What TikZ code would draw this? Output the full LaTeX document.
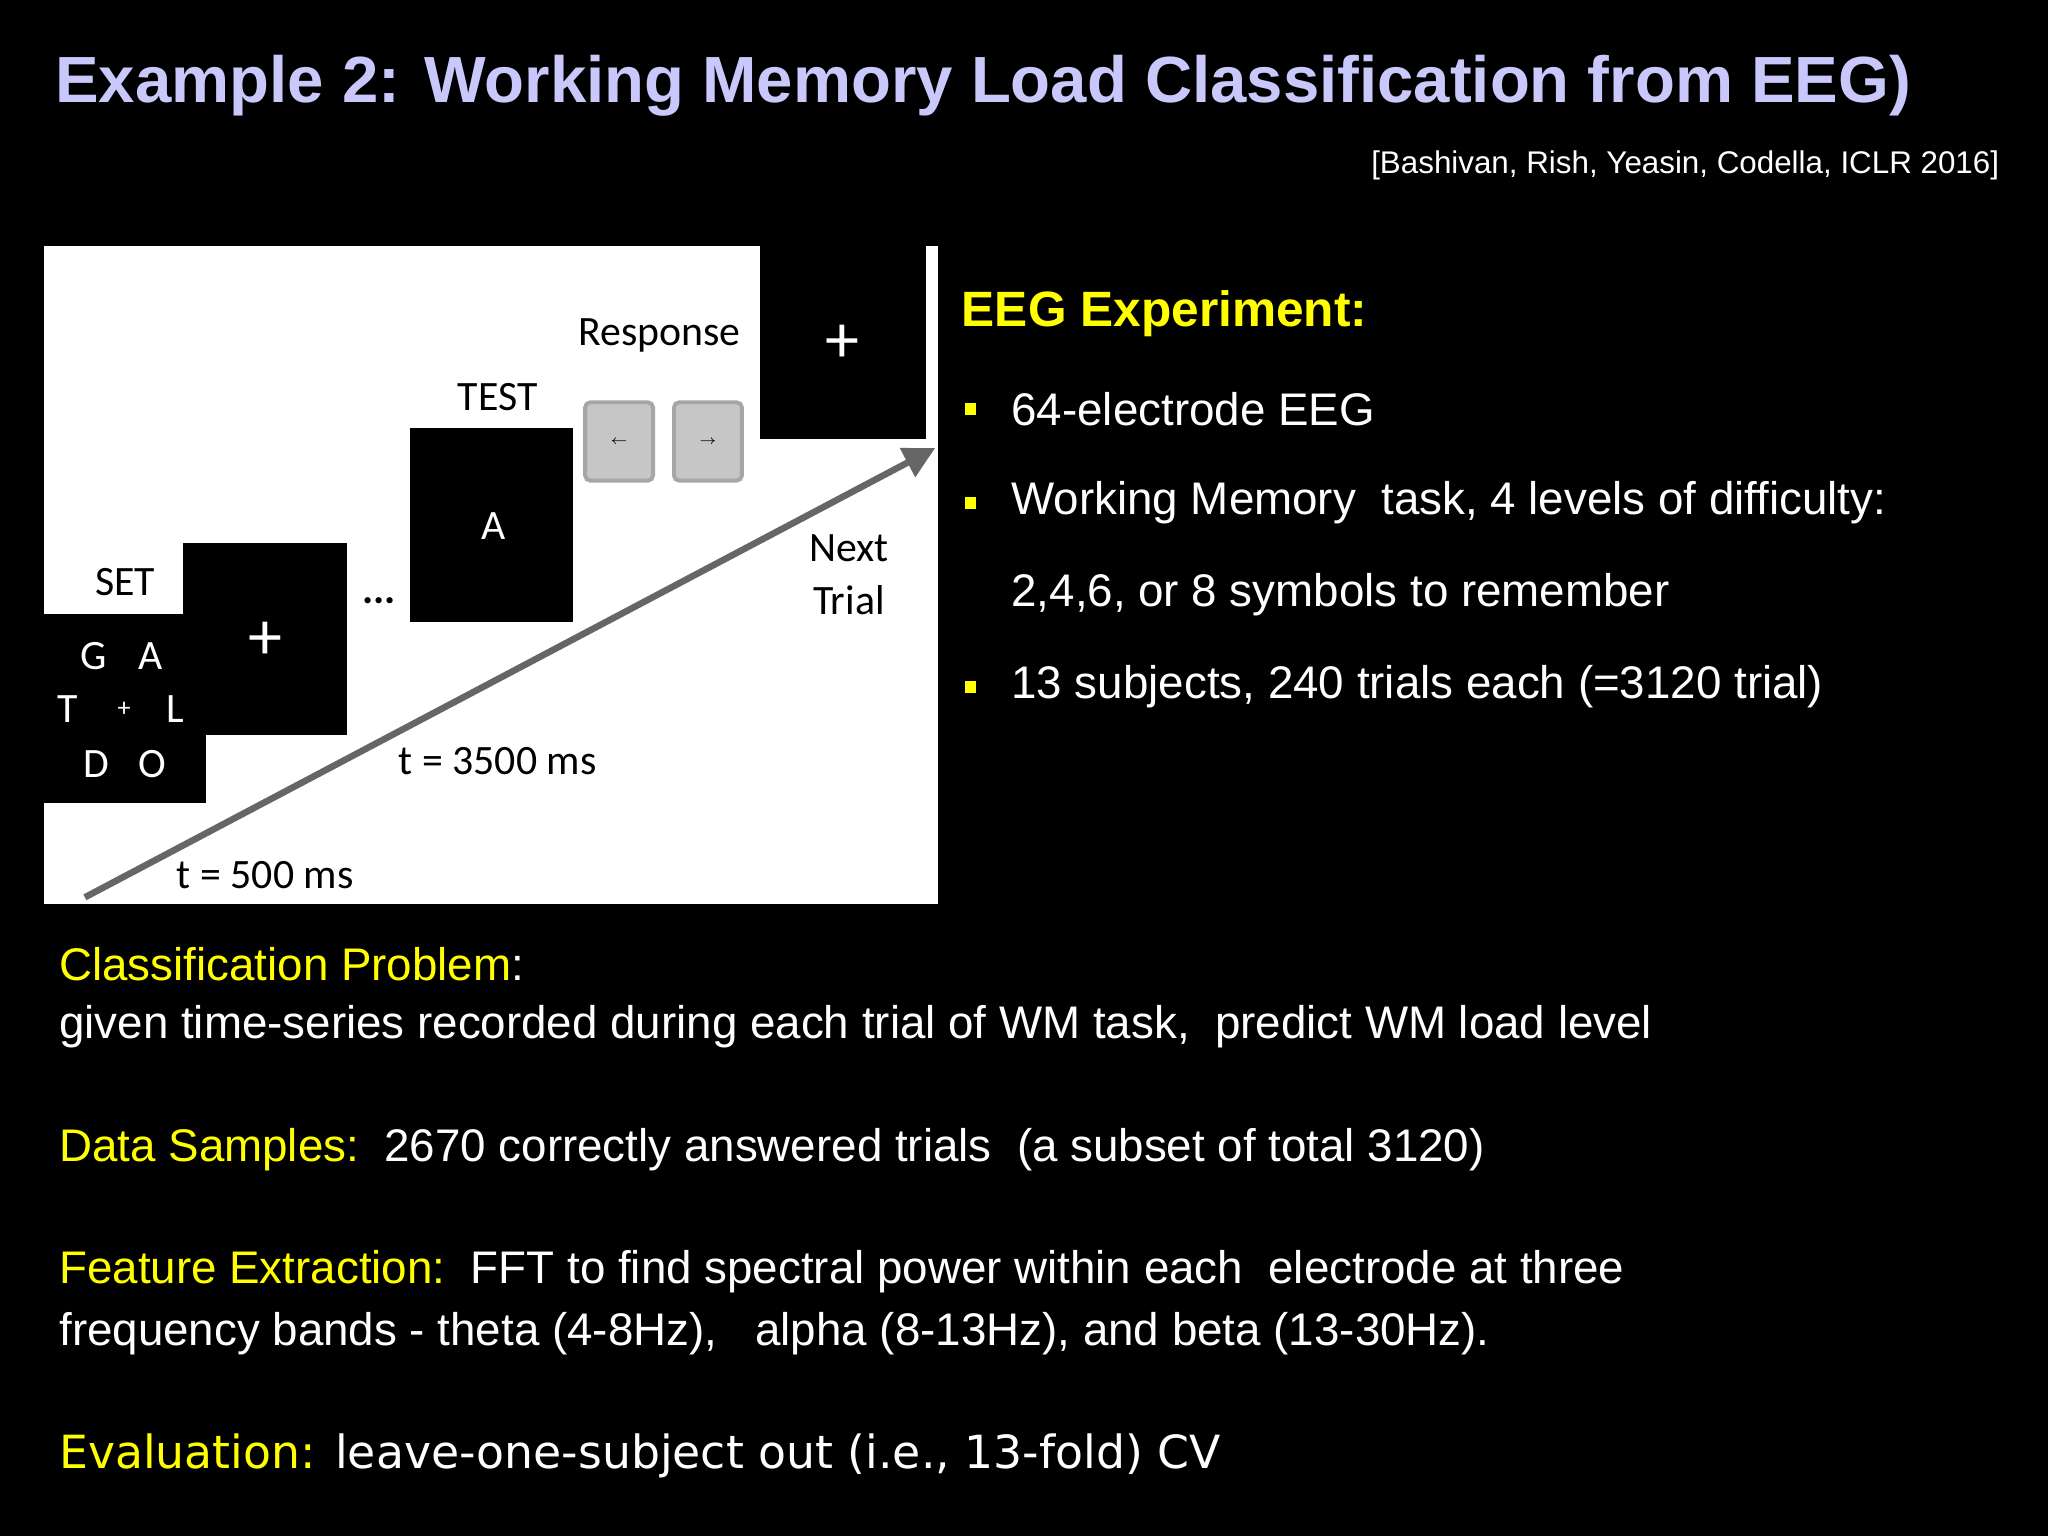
\documentclass[tikz,border=0pt]{standalone}
\usepackage{fontspec}
\setmainfont{Liberation Sans}
\newfontfamily\calfnt{Carlito}
\newfontfamily\verd{DejaVu Sans}
\usetikzlibrary{arrows.meta}
\definecolor{ttl}{RGB}{200,200,250}
\definecolor{yel}{RGB}{255,255,0}
\tikzset{
 blk/.style={fill=black,draw=none},
 pl/.style={font=\calfnt\fontsize{16}{18}\selectfont,text=black,inner sep=0pt},
 wl/.style={font=\calfnt\fontsize{16}{18}\selectfont,text=white,inner sep=0pt},
 body/.style={font=\fontsize{17.5}{21}\selectfont,text=white,anchor=west,inner sep=0pt},
 btn/.style={fill=gray!45,draw=gray!70,line width=1.5pt,rounded corners=2pt,minimum width=26pt,minimum height=30pt,inner sep=0pt},
 bul/.style={fill=yel,minimum size=4.5pt,inner sep=0pt}
}
\begin{document}
\begin{tikzpicture}[x=0.5pt,y=-0.5pt]
\fill[black] (0,0) rectangle (1568,1176);
\useasboundingbox (0,0) rectangle (1568,1176);
\node[anchor=west,text=ttl,font=\bfseries\fontsize{25}{30}\selectfont,inner sep=0pt] (title) at (42,66) {Example 2: Working Memory Load Classification from EEG)};
\node[anchor=east,text=white,font=\fontsize{12}{14}\selectfont,inner sep=0pt] (cite) at (1531,127) {[Bashivan, Rish, Yeasin, Codella, ICLR 2016]};
% panel
\fill[white] (34,188) rectangle (718,692);
\fill[blk] (140,416) rectangle (266,563);
\node[wl,font=\calfnt\fontsize{26}{26}\selectfont] (p1) at (203,491) {+};
\fill[blk] (34,470) rectangle (158,615);
\node[wl] (g) at (72,502) {G};
\node[wl] (a) at (115,502) {A};
\node[wl] (t) at (52,543) {T};
\node[wl,font=\calfnt\fontsize{10}{10}\selectfont] (pp) at (95,543) {+};
\node[wl] (l) at (134,543) {L};
\node[wl] (d) at (74,585) {D};
\node[wl] (o) at (117,585) {O};
\node[pl] (set) at (96,446) {SET};
\node[pl] (dots) at (290,460) {\textbf{...}};
\fill[blk] (314,328) rectangle (439,476);
\node[wl] (aa) at (378,403) {A};
\node[pl] (test) at (381,304) {TEST};
\node[pl] (resp) at (505,257) {Response};
\node[btn] (b1) at (474,338) {\tiny$\leftarrow$};
\node[btn] (b2) at (542,338) {\tiny$\rightarrow$};
\fill[blk] (582,188) rectangle (709,336);
\node[wl,font=\calfnt\fontsize{26}{26}\selectfont] (p2) at (645,263) {+};
\coordinate (s) at (65,687);
\coordinate (e) at (716,343);
\draw[gray!80!black,line width=2.5pt,-{Triangle[length=12pt,width=12pt]}] (s) -- (e);
\node[pl,align=center] (next) at (650,440) {Next\\[2pt]Trial};
\node[pl] (t35) at (381,583) {t = 3500 ms};
\node[pl] (t5) at (203,670) {t = 500 ms};
% right
\node[anchor=west,text=yel,font=\bfseries\fontsize{19}{22}\selectfont,inner sep=0pt] (eeg) at (736,240) {EEG Experiment:};
\node[bul] (k1) at (743,313) {};
\node[body] (r1) at (774,313) {64-electrode EEG};
\node[bul] (k2) at (743,385) {};
\node[body] (r2) at (774,385) {Working Memory\ \ task, 4 levels of difficulty:};
\node[body] (r3) at (774,455) {2,4,6, or 8 symbols to remember};
\node[bul] (k3) at (743,526) {};
\node[body] (r4) at (774,526) {13 subjects, 240 trials each (=3120 trial)};
% bottom
\node[body] (c1) at (45,738) {\textcolor{yel}{Classification Problem}:};
\node[body] (c2) at (45,786) {given time-series recorded during each trial of WM task,\ \ predict WM load level};
\node[body] (ds) at (45,880) {\textcolor{yel}{Data Samples:}\ \ 2670 correctly answered trials\ \ (a subset of total 3120)};
\node[body] (f1) at (45,974) {\textcolor{yel}{Feature Extraction:}\ \ FFT to find spectral power within each\ \ electrode at three};
\node[body] (f2) at (45,1021) {frequency bands - theta (4-8Hz),\ \ \ alpha (8-13Hz), and beta (13-30Hz).};
\node[body,font=\verd\fontsize{17.5}{21}\selectfont] (ev) at (45,1115) {\textcolor{yel}{Evaluation:} leave-one-subject out (i.e., 13-fold) CV};
\end{tikzpicture}
\end{document}
